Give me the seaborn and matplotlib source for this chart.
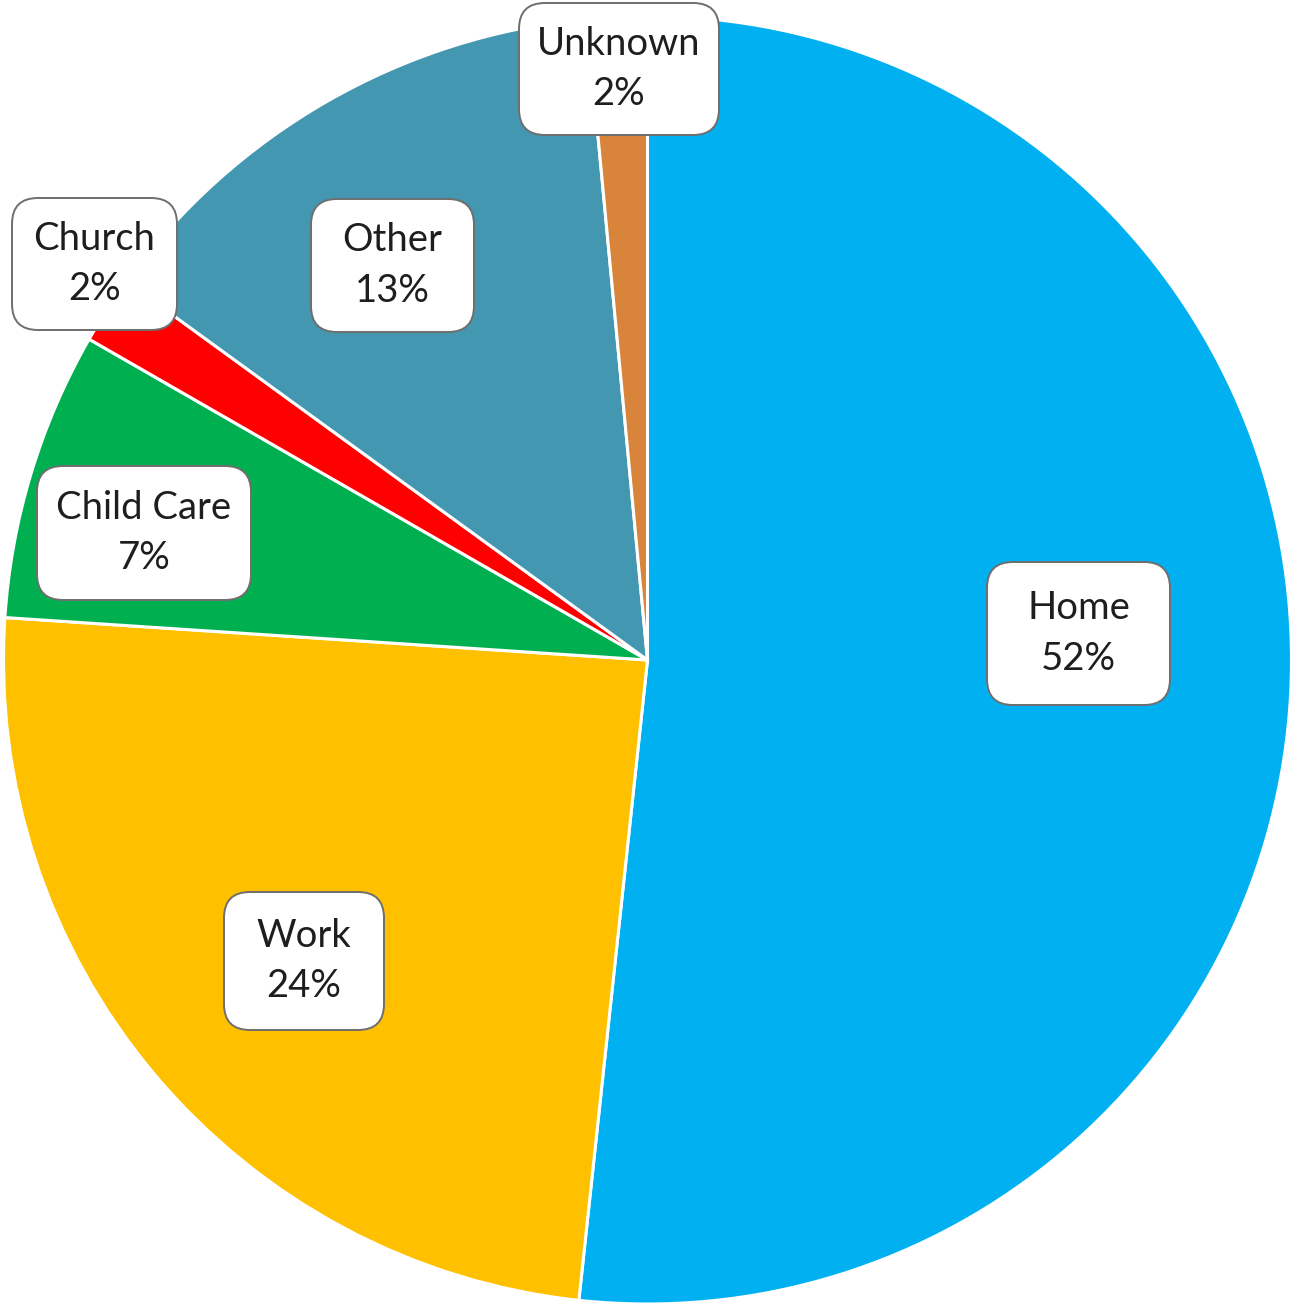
import matplotlib
matplotlib.use("Agg")
import matplotlib.pyplot as plt
from matplotlib.patches import FancyBboxPatch
import seaborn as sns

# ---- data ----
categories = ["Home", "Work", "Child Care", "Church", "Other", "Unknown"]
shares = [51.7, 24.35, 7.25, 1.7, 13.5, 1.5]
pct_labels = ["52%", "24%", "7%", "2%", "13%", "2%"]
colors = ["#00B0F0", "#FFC000", "#00B050", "#FF0000", "#4397B0", "#D9843B"]

# ---- layout (pixels in a 1293x1303 canvas) ----
W, H = 1293, 1303
cx, cy, R = 647.5, 660, 644
# label box centres and sizes (px)
box_cx = [1078.5, 304, 144, 94.5, 392.5, 619]
box_cy = [633.5, 961, 533, 264, 265.5, 69]
box_w = [183, 160, 214, 165, 163, 200]
box_h = [143, 138, 134, 132, 133, 132]

sns.set_theme(style="white")
plt.rcParams["font.family"] = ["Lato", "DejaVu Sans"]

fig = plt.figure(figsize=(W / 100, H / 100), dpi=100)
ax = fig.add_axes([0, 0, 1, 1])
ax.pie(shares, colors=colors, startangle=90, counterclock=False, radius=1.0,
       wedgeprops=dict(edgecolor="white", linewidth=2.2))
ax.set_aspect("auto")
ax.set_xlim(-cx / R, (W - cx) / R)
ax.set_ylim(-(H - cy) / R, cy / R)
ax.axis("off")

def px2d(x, y):
    return (x - cx) / R, (cy - y) / R

rad = 26 / R
for name, pl, bx, by, bw, bh in zip(categories, pct_labels, box_cx, box_cy, box_w, box_h):
    x0, y0 = px2d(bx - bw / 2, by + bh / 2)
    patch = FancyBboxPatch((x0 + rad, y0 + rad), bw / R - 2 * rad, bh / R - 2 * rad,
                           boxstyle=f"round,pad={rad},rounding_size={rad}",
                           facecolor="white", edgecolor="#6E6E6E", linewidth=1.4,
                           zorder=5)
    ax.add_patch(patch)
    tx, ty = px2d(bx, by)
    ax.text(tx, ty, f"{name}\n{pl}", ha="center", va="center", fontsize=27.5,
            color="#1E1E1E", linespacing=1.5, zorder=6)

fig.savefig("out.png", dpi=100, facecolor="white")
